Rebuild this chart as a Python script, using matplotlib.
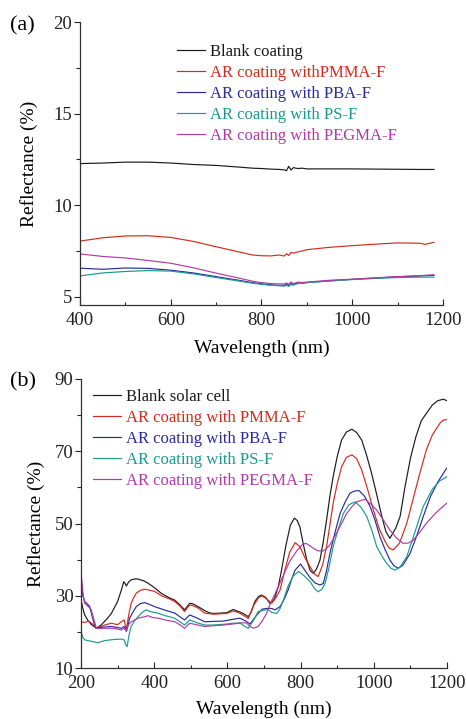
import matplotlib
matplotlib.use("Agg")
import matplotlib.pyplot as plt
from matplotlib.ticker import MultipleLocator

plt.rcParams['font.family'] = ['Liberation Serif', 'DejaVu Serif']
plt.rcParams['mathtext.fontset'] = 'stix'

# ---------------- Panel (a) data ----------------
wl_a = [400, 450, 500, 550, 600, 650, 700, 750, 780, 800, 820, 840, 850, 855, 860, 865,
        870, 880, 890, 900, 950, 1000, 1050, 1100, 1150, 1160, 1180]
a_blank = [12.27, 12.30, 12.35, 12.35, 12.30, 12.22, 12.17, 12.08, 12.02, 12.00, 11.97, 11.95,
           11.93, 11.88, 12.12, 11.92, 12.05, 12.00, 12.02, 11.98, 11.98, 11.98, 11.97, 11.96,
           11.95, 11.95, 11.95]
a_pmma = [8.04, 8.22, 8.32, 8.33, 8.24, 8.02, 7.73, 7.45, 7.28, 7.24, 7.23, 7.28, 7.22, 7.35,
          7.25, 7.42, 7.38, 7.45, 7.50, 7.57, 7.70, 7.79, 7.87, 7.94, 7.92, 7.86, 7.97]
a_pba = [6.56, 6.50, 6.57, 6.55, 6.45, 6.30, 6.10, 5.90, 5.77, 5.71, 5.65, 5.62, 5.62, 5.68,
         5.60, 5.72, 5.66, 5.75, 5.74, 5.78, 5.87, 5.95, 6.02, 6.09, 6.14, 6.15, 6.17]
a_ps = [6.14, 6.30, 6.38, 6.43, 6.40, 6.25, 6.05, 5.86, 5.74, 5.68, 5.63, 5.60, 5.58, 5.62,
        5.57, 5.66, 5.64, 5.72, 5.73, 5.77, 5.86, 5.94, 6.00, 6.05, 6.07, 6.07, 6.07]
a_pegma = [7.34, 7.20, 7.12, 6.98, 6.83, 6.58, 6.29, 6.02, 5.85, 5.77, 5.72, 5.70, 5.70, 5.75,
           5.68, 5.80, 5.72, 5.80, 5.78, 5.80, 5.90, 5.96, 6.03, 6.10, 6.15, 6.17, 6.20]
labels_a = ["Blank coating", "AR coating withPMMA-F", "AR coating with PBA-F",
            "AR coating with PS-F", "AR coating with PEGMA-F"]

# ---------------- Panel (b) data ----------------
b_blank_x = [200, 205, 210, 220, 230, 242, 255, 270, 283, 300, 310, 317, 320, 324, 330, 337, 350,
             356, 370, 383, 400, 419, 440, 456, 470, 483, 490, 497, 505, 520, 538, 550, 561, 580,
             598, 616, 634, 645, 657, 665, 675, 685, 694, 705, 716, 728, 739, 748, 760, 772, 783,
             791, 798, 808, 817, 826, 835, 844, 853, 862, 871, 880, 889, 900, 912, 925, 940, 953,
             967, 980, 994, 1008, 1022, 1033, 1044, 1060, 1072, 1085, 1100, 1115, 1130, 1144,
             1160, 1175, 1190, 1200]
b_blank_y = [29.0, 26.5, 24.7, 23.0, 21.9, 21.0, 21.9, 23.5, 25.1, 28.4, 31.5, 33.9, 33.5, 32.7,
             33.8, 34.4, 34.7, 34.6, 34.2, 33.5, 32.3, 30.7, 29.5, 28.8, 27.5, 26.1, 27.0, 27.9,
             27.8, 27.0, 25.9, 25.3, 25.1, 25.2, 25.3, 26.2, 25.5, 25.0, 24.2, 25.5, 28.4, 29.8,
             30.2, 29.5, 27.9, 29.0, 32.5, 37.1, 44.0, 49.5, 51.5, 50.8, 49.1, 44.0, 39.9, 37.0,
             36.2, 37.5, 39.9, 45.0, 51.0, 57.5, 63.0, 68.5, 73.1, 75.3, 76.1, 75.2, 73.1, 69.0,
             63.9, 58.0, 51.9, 47.8, 45.9, 48.7, 52.0, 60.0, 68.0, 74.0, 78.5, 80.5, 82.8, 84.0,
             84.4, 84.0]

b_pmma_x = [200, 210, 220, 230, 242, 255, 265, 283, 300, 310, 318, 324, 330, 337, 344, 351, 362,
            374, 385, 401, 420, 440, 456, 470, 483, 490, 497, 505, 520, 538, 561, 580, 598, 616,
            634, 645, 657, 670, 684, 694, 705, 721, 733, 744, 757, 770, 785, 798, 812, 826, 838,
            848, 860, 871, 880, 889, 900, 912, 925, 940, 953, 967, 983, 999, 1015, 1031, 1042,
            1053, 1070, 1090, 1108, 1126, 1144, 1160, 1181, 1190, 1200]
b_pmma_y = [22.8, 22.6, 23.0, 22.3, 21.0, 21.5, 21.9, 22.4, 22.0, 22.8, 23.3, 20.5, 24.5, 27.9,
            29.5, 30.7, 31.5, 31.8, 31.6, 31.2, 30.0, 29.2, 28.4, 27.2, 25.6, 26.6, 27.4, 27.3,
            26.6, 25.2, 24.9, 25.0, 25.1, 25.8, 25.2, 24.5, 23.7, 27.0, 29.3, 30.0, 29.3, 27.9,
            29.5, 31.6, 37.1, 42.0, 44.7, 43.6, 40.5, 38.0, 36.0, 35.3, 38.5, 43.6, 49.5, 55.6,
            61.0, 65.7, 68.3, 69.0, 68.0, 64.8, 59.5, 53.7, 48.5, 45.0, 43.2, 42.7, 44.5, 50.0,
            57.0, 64.0, 70.5, 74.5, 77.8, 78.6, 78.8]

b_pba_x = [200, 205, 210, 217, 224, 230, 237, 242, 260, 283, 300, 310, 318, 324, 333, 342, 351,
           362, 374, 385, 401, 430, 456, 470, 483, 497, 520, 538, 561, 590, 616, 634, 650, 662,
           675, 684, 695, 707, 720, 730, 744, 755, 766, 777, 785, 800, 812, 826, 840, 853, 862,
           871, 880, 894, 908, 922, 935, 948, 960, 975, 990, 1003, 1017, 1030, 1044, 1055, 1067,
           1080, 1099, 1117, 1135, 1155, 1175, 1199]
b_pba_y = [35.5, 30.0, 28.4, 27.8, 27.0, 24.5, 21.9, 21.0, 21.3, 21.5, 21.2, 21.0, 21.5, 20.1,
           23.8, 25.5, 27.0, 27.8, 28.1, 27.7, 27.0, 26.0, 25.2, 24.2, 23.3, 24.7, 23.7, 22.8,
           22.9, 23.0, 23.5, 23.8, 23.0, 22.2, 24.0, 25.1, 26.3, 26.5, 26.5, 26.1, 27.0, 29.0,
           31.6, 35.0, 37.1, 38.8, 37.0, 35.0, 33.5, 33.0, 33.4, 37.0, 41.7, 47.5, 52.8, 56.0,
           58.4, 59.0, 59.1, 57.5, 54.7, 51.0, 46.3, 43.0, 39.9, 38.3, 37.6, 38.5, 41.7, 46.5,
           51.9, 57.5, 61.5, 65.3]

b_ps_x = [200, 205, 210, 228, 246, 265, 290, 310, 318, 322, 326, 331, 337, 346, 356, 367, 378,
          390, 410, 430, 456, 470, 483, 497, 515, 538, 561, 590, 616, 634, 648, 657, 670, 684,
          700, 712, 721, 735, 744, 753, 765, 780, 795, 810, 826, 838, 848, 858, 867, 878, 889,
          903, 917, 932, 949, 965, 981, 995, 1008, 1022, 1035, 1047, 1058, 1072, 1090, 1112,
          1135, 1160, 1180, 1199]
b_ps_y = [20.1, 18.5, 17.8, 17.4, 17.0, 17.6, 17.9, 18.0, 17.8, 16.5, 15.9, 19.0, 21.5, 23.0,
          24.2, 25.4, 26.1, 25.6, 25.2, 24.5, 23.8, 22.8, 21.9, 23.3, 22.6, 21.9, 21.9, 22.1,
          22.4, 22.5, 21.5, 21.0, 23.0, 25.6, 26.0, 26.2, 25.4, 25.1, 26.5, 28.8, 32.5, 35.5,
          36.7, 35.5, 33.9, 32.0, 31.1, 31.8, 33.4, 38.0, 43.6, 48.5, 52.8, 55.2, 56.0, 54.5,
          51.9, 48.0, 43.6, 41.0, 39.0, 37.6, 37.1, 38.0, 40.8, 47.5, 54.7, 59.5, 61.8, 62.9]

b_pegma_x = [200, 205, 210, 220, 228, 235, 242, 260, 283, 300, 310, 318, 324, 330, 337, 356, 374,
             383, 395, 410, 430, 456, 470, 483, 497, 515, 538, 561, 590, 616, 640, 652, 662, 671,
             684, 695, 707, 718, 730, 750, 770, 790, 805, 815, 830, 845, 860, 870, 880, 898, 912,
             926, 940, 953, 976, 993, 1008, 1026, 1044, 1062, 1080, 1095, 1108, 1125, 1144, 1170,
             1199]
b_pegma_y = [36.7, 31.0, 27.9, 27.0, 26.1, 23.5, 21.0, 21.0, 21.0, 20.8, 20.5, 21.0, 20.3, 22.0,
             22.8, 23.8, 24.2, 24.5, 24.0, 23.8, 23.3, 22.8, 22.0, 21.0, 22.4, 22.0, 21.5, 21.7,
             21.9, 22.2, 22.5, 22.5, 21.5, 21.0, 21.5, 23.0, 25.1, 28.0, 30.5, 35.0, 39.5, 42.5,
             44.2, 44.5, 43.5, 42.5, 42.3, 43.0, 44.1, 47.3, 50.0, 52.8, 54.6, 56.0, 56.7, 55.3,
             53.7, 51.0, 48.2, 46.0, 44.5, 44.6, 45.4, 47.5, 50.1, 53.0, 55.6]
labels_b = ["Blank solar cell", "AR coating with PMMA-F", "AR coating with PBA-F",
            "AR coating with PS-F", "AR coating with PEGMA-F"]

colors = ["#1a1a1a", "#d42a1e", "#2a2a9c", "#1a9a8c", "#b03aa8"]

fig = plt.figure(figsize=(4.66, 7.19), dpi=100)
ax1 = fig.add_axes([0.1717, 0.5758, 0.7789, 0.3936])
ax2 = fig.add_axes([0.1738, 0.0709, 0.7854, 0.4020])

def style(ax):
    for s in ("top", "right"):
        ax.spines[s].set_visible(False)
    for s in ("left", "bottom"):
        ax.spines[s].set_linewidth(0.9)
        ax.spines[s].set_color("#333333")
    ax.tick_params(axis="x", which="major", direction="in", length=4, width=0.8,
                   labelsize=13.5, pad=5, colors="#222222")
    ax.tick_params(axis="x", which="minor", direction="in", length=2.5, width=0.8,
                   colors="#222222")
    ax.tick_params(axis="y", which="major", direction="out", length=4.5, width=0.8,
                   labelsize=13.5, pad=1, colors="#222222")
    ax.tick_params(axis="y", which="minor", direction="out", length=3, width=0.8,
                   colors="#222222")

# Panel (a)
series_a = [a_blank, a_pmma, a_pba, a_ps, a_pegma]
for ys, c, lab in zip(series_a, colors, labels_a):
    ax1.plot(wl_a, ys, color=c, lw=0.85, label=lab)
ax1.set_xlim(400, 1200)
ax1.set_ylim(4.55, 20)
ax1.set_xticks([400, 600, 800, 1000, 1200])
ax1.xaxis.set_minor_locator(MultipleLocator(100))
ax1.set_yticks([5, 10, 15, 20])
ax1.yaxis.set_minor_locator(MultipleLocator(2.5))
style(ax1)
ax1.set_xlabel("Wavelength (nm)", fontsize=14)
ax1.set_ylabel("Reflectance (%)", fontsize=14)
ax1.xaxis.set_label_coords(0.5, -0.123)
ax1.yaxis.set_label_coords(-0.116, 0.5)
leg1 = ax1.legend(loc="upper left", bbox_to_anchor=(0.267, 0.922), frameon=False,
                  fontsize=12, handlelength=1.7, handletextpad=0.3, labelspacing=0.3,
                  borderpad=0, borderaxespad=0)
for t, c in zip(leg1.get_texts(), colors):
    t.set_color(c)

# Panel (b)
series_b = [(b_blank_x, b_blank_y), (b_pmma_x, b_pmma_y), (b_pba_x, b_pba_y),
            (b_ps_x, b_ps_y), (b_pegma_x, b_pegma_y)]
for (xs, ys), c, lab in zip(series_b, colors, labels_b):
    ax2.plot(xs, ys, color=c, lw=0.85, label=lab)
ax2.set_xlim(200, 1200)
ax2.set_ylim(10, 90)
ax2.set_xticks([200, 400, 600, 800, 1000, 1200])
ax2.xaxis.set_minor_locator(MultipleLocator(100))
ax2.set_yticks([10, 30, 50, 70, 90])
ax2.yaxis.set_minor_locator(MultipleLocator(10))
style(ax2)
ax2.set_xlabel("Wavelength (nm)", fontsize=14)
ax2.set_ylabel("Reflectance (%)", fontsize=14)
ax2.xaxis.set_label_coords(0.5, -0.112)
ax2.yaxis.set_label_coords(-0.098, 0.5)
leg2 = ax2.legend(loc="upper left", bbox_to_anchor=(0.033, 0.965), frameon=False,
                  fontsize=12, handlelength=1.7, handletextpad=0.3, labelspacing=0.3,
                  borderpad=0, borderaxespad=0)
for t, c in zip(leg2.get_texts(), colors):
    t.set_color(c)

fig.text(0.021, 0.964, "(a)", fontsize=16, va="center", ha="left")
fig.text(0.021, 0.469, "(b)", fontsize=16, va="center", ha="left")

fig.savefig("out.png", dpi=100)
